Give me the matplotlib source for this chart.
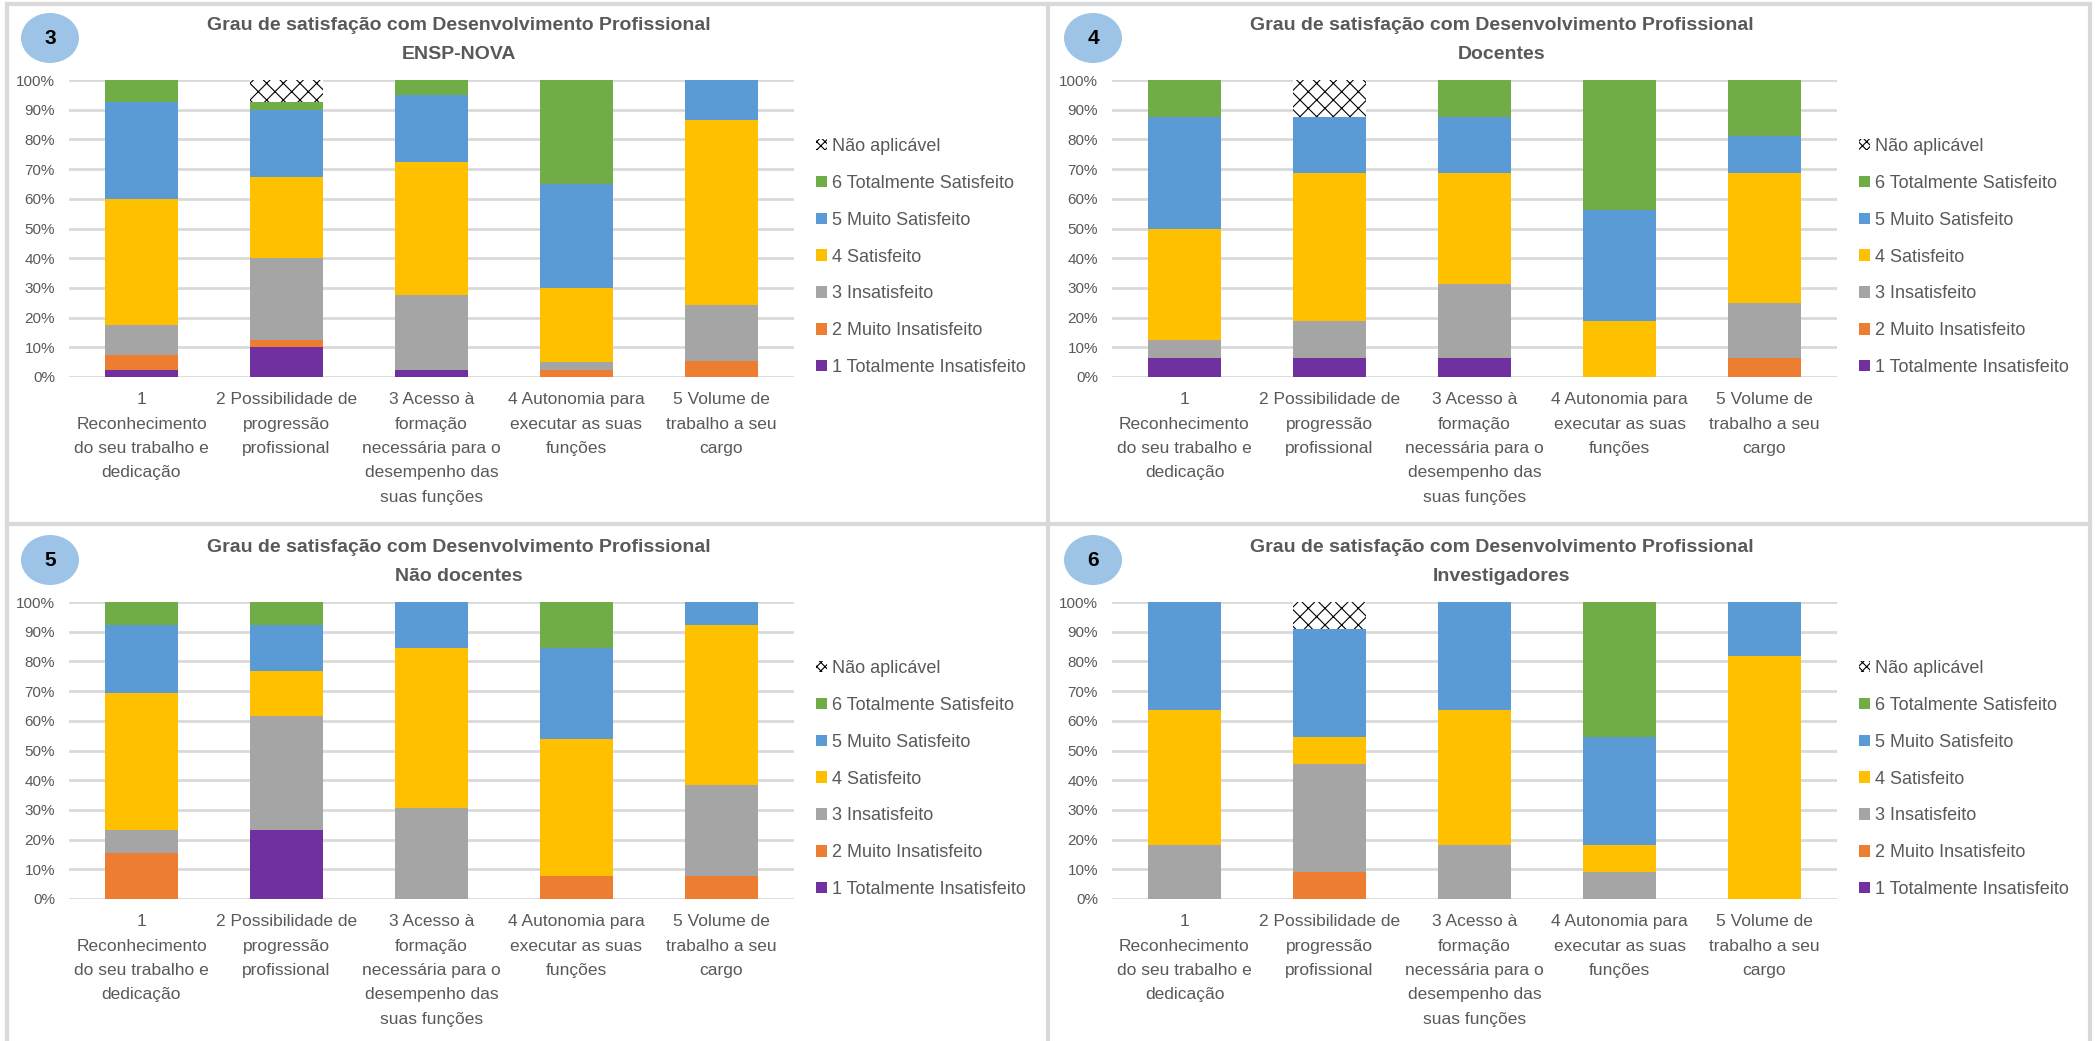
import numpy as np
import matplotlib
matplotlib.use("Agg")
import matplotlib.pyplot as plt
from matplotlib.patches import Ellipse, Patch
from matplotlib.lines import Line2D

plt.rcParams["font.family"] = ["Liberation Sans", "DejaVu Sans"]
plt.rcParams["hatch.linewidth"] = 0.8

# categories (x axis)
categories = [
    "1\nReconhecimento\ndo seu trabalho e\ndedicação",
    "2 Possibilidade de\nprogressão\nprofissional",
    "3 Acesso à\nformação\nnecessária para o\ndesempenho das\nsuas funções",
    "4 Autonomia para\nexecutar as suas\nfunções",
    "5 Volume de\ntrabalho a seu\ncargo",
]

levels = [
    "1 Totalmente Insatisfeito",
    "2 Muito Insatisfeito",
    "3 Insatisfeito",
    "4 Satisfeito",
    "5 Muito Satisfeito",
    "6 Totalmente Satisfeito",
    "Não aplicável",
]

# percentages per level (rows) and category (cols)
ensp_nova = [
    [2.5, 10.0, 2.5, 0.0, 0.0],
    [5.0, 2.5, 0.0, 2.5, 5.4],
    [10.0, 27.5, 25.0, 2.5, 18.9],
    [42.5, 27.5, 45.0, 25.0, 62.2],
    [32.5, 22.5, 22.5, 35.0, 13.5],
    [7.5, 2.5, 5.0, 35.0, 0.0],
    [0.0, 7.5, 0.0, 0.0, 0.0],
]

docentes = [
    [6.25, 6.25, 6.25, 0.0, 0.0],
    [0.0, 0.0, 0.0, 0.0, 6.25],
    [6.25, 12.5, 25.0, 0.0, 18.75],
    [37.5, 50.0, 37.5, 18.75, 43.75],
    [37.5, 18.75, 18.75, 37.5, 12.5],
    [12.5, 0.0, 12.5, 43.75, 18.75],
    [0.0, 12.5, 0.0, 0.0, 0.0],
]

nao_docentes = [
    [0.0, 23.08, 0.0, 0.0, 0.0],
    [15.38, 0.0, 0.0, 7.69, 7.69],
    [7.69, 38.46, 30.77, 0.0, 30.77],
    [46.15, 15.38, 53.85, 46.15, 53.85],
    [23.08, 15.38, 15.38, 30.77, 7.69],
    [7.69, 7.69, 0.0, 15.38, 0.0],
    [0.0, 0.0, 0.0, 0.0, 0.0],
]

investigadores = [
    [0.0, 0.0, 0.0, 0.0, 0.0],
    [0.0, 9.09, 0.0, 0.0, 0.0],
    [18.18, 36.36, 18.18, 9.09, 0.0],
    [45.45, 9.09, 45.45, 9.09, 81.82],
    [36.36, 36.36, 36.36, 36.36, 18.18],
    [0.0, 0.0, 0.0, 45.45, 0.0],
    [0.0, 9.09, 0.0, 0.0, 0.0],
]

panel_numbers = ["3", "4", "5", "6"]
panel_groups = ["ENSP-NOVA", "Docentes", "Não docentes", "Investigadores"]
panel_data = [ensp_nova, docentes, nao_docentes, investigadores]

colors = ["#7030A0", "#ED7D31", "#A5A5A5", "#FFC000", "#5B9BD5", "#70AD47", "white"]
text_color = "#595959"
grid_color = "#D9D9D9"

W, H = 2100, 1041
fig = plt.figure(figsize=(W / 100, H / 100), dpi=100)


def fx(x):
    return x / W


def fy(y):
    return 1 - y / H


offsets = [(0, 0), (1043, 0), (0, 522), (1043, 522)]

for (ox, oy), num, group, data in zip(offsets, panel_numbers, panel_groups, panel_data):
    left, right, top, bottom = 69 + ox, 794 + ox, 80 + oy, 377 + oy
    ax = fig.add_axes([fx(left), fy(bottom), (right - left) / W, (bottom - top) / H])
    x = np.arange(len(categories))
    base = np.zeros(len(categories))
    handles = []
    for i, (lab, vals) in enumerate(zip(levels, data)):
        vals = np.array(vals)
        if lab == "Não aplicável":
            ax.bar(x, vals, 0.51, bottom=base, color="white", edgecolor="black",
                   hatch="xx", linewidth=0, zorder=2)
            handles.append(Patch(facecolor="white", edgecolor="black", hatch="xxxx",
                                 linewidth=0, label=lab))
        else:
            ax.bar(x, vals, 0.51, bottom=base, color=colors[i], linewidth=0, zorder=2)
            handles.append(Patch(facecolor=colors[i], linewidth=0, label=lab))
        base += vals

    ax.set_xlim(-0.5, 4.5)
    ax.set_ylim(0, 100)
    ax.set_yticks(np.arange(0, 101, 10))
    ax.set_yticklabels([f"{v}%" for v in range(0, 101, 10)])
    ax.set_xticks(x)
    ax.set_xticklabels(categories, linespacing=1.78)
    ax.tick_params(axis="y", length=0, pad=10, labelsize=11, labelcolor=text_color)
    ax.tick_params(axis="x", length=0, pad=11, labelsize=12.5, labelcolor=text_color)
    ax.grid(axis="y", color=grid_color, linewidth=2)
    ax.set_axisbelow(True)
    for s in ax.spines.values():
        s.set_visible(False)

    ax.legend(handles[::-1], [h.get_label() for h in handles[::-1]],
              loc="center left", bbox_to_anchor=(fx(816 + ox), fy(257 + oy)),
              bbox_transform=fig.transFigure, frameon=False, fontsize=13,
              labelcolor=text_color, handlelength=0.6, handleheight=0.6,
              handletextpad=0.3, labelspacing=1.1, borderpad=0, borderaxespad=0)

    fig.text(fx(459 + ox), fy(40 + oy),
             "Grau de satisfação com Desenvolvimento Profissional\n" + group,
             ha="center", va="center", fontsize=14, fontweight="bold",
             color=text_color, linespacing=1.95)

    fig.add_artist(Ellipse((fx(50 + ox), fy(38 + oy)), 58 / W, 50 / H,
                           transform=fig.transFigure, facecolor="#9DC3E6",
                           edgecolor="none"))
    fig.text(fx(50 + ox), fy(38 + oy), num, ha="center", va="center",
             fontsize=15, fontweight="bold", color="black")

# panel frames
frame_kw = dict(color=grid_color, linewidth=3, transform=fig.transFigure)
fig.add_artist(Line2D([fx(7), fx(7)], [fy(4), fy(1041)], **frame_kw))
fig.add_artist(Line2D([fx(2090), fx(2090)], [fy(4), fy(1041)], **frame_kw))
fig.add_artist(Line2D([fx(7), fx(2090)], [fy(4), fy(4)], **frame_kw))
fig.add_artist(Line2D([fx(1048), fx(1048)], [fy(4), fy(1041)], **frame_kw))
fig.add_artist(Line2D([fx(7), fx(2090)], [fy(524), fy(524)], **frame_kw))

fig.savefig("out.png", dpi=100)
